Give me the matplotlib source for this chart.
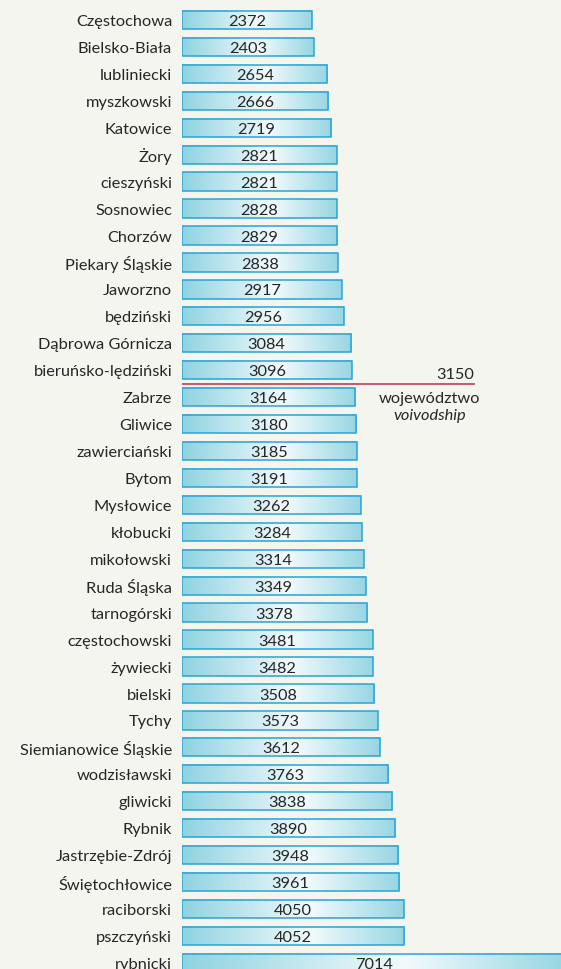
import numpy as np
import matplotlib.pyplot as plt
from matplotlib.colors import LinearSegmentedColormap

plt.rcParams['font.family'] = ['Lato', 'DejaVu Sans']

names = ['Częstochowa', 'Bielsko-Biała', 'lubliniecki', 'myszkowski', 'Katowice',
         'Żory', 'cieszyński', 'Sosnowiec', 'Chorzów', 'Piekary Śląskie',
         'Jaworzno', 'będziński', 'Dąbrowa Górnicza', 'bieruńsko-lędziński',
         'Zabrze', 'Gliwice', 'zawierciański', 'Bytom', 'Mysłowice', 'kłobucki',
         'mikołowski', 'Ruda Śląska', 'tarnogórski', 'częstochowski', 'żywiecki',
         'bielski', 'Tychy', 'Siemianowice Śląskie', 'wodzisławski', 'gliwicki',
         'Rybnik', 'Jastrzębie-Zdrój', 'Świętochłowice', 'raciborski',
         'pszczyński', 'rybnicki']
values = [2372, 2403, 2654, 2666, 2719, 2821, 2821, 2828, 2829, 2838,
          2917, 2956, 3084, 3096, 3164, 3180, 3185, 3191, 3262, 3284,
          3314, 3349, 3378, 3481, 3482, 3508, 3573, 3612, 3763, 3838,
          3890, 3948, 3961, 4050, 4052, 7014]
voivodship = 3150

bg = '#f5f5f0'
txt = '#262626'
edge = '#2aa3d3'
grad = LinearSegmentedColormap.from_list(
    'bar', [(0, '#8fd3e1'), (0.58, '#f2fafc'), (1, '#97d6e3')])
fs = 11.8

fig = plt.figure(figsize=(5.61, 9.70), dpi=100, facecolor=bg)
x0 = 182 / 561
ax = fig.add_axes([x0, 0, 1 - x0, 1])
ax.set_facecolor(bg)

h = 0.68
g = np.linspace(0, 1, 256).reshape(1, -1)
for i, v in enumerate(values):
    ax.imshow(g, cmap=grad, aspect='auto', interpolation='bilinear',
              extent=[0, v, i + h / 2, i - h / 2], zorder=1)
    ax.barh(i, v, height=h, facecolor='none', edgecolor=edge, linewidth=1.1, zorder=2)
    ax.text(v / 2, i + 0.04, str(v), ha='center', va='center', fontsize=fs,
            color=txt, zorder=3)
    ax.text(-180, i + 0.04, names[i], ha='right', va='center', fontsize=fs,
            color=txt, clip_on=False)

# voivodship average line between the rows it falls between
pos = np.searchsorted(values[:-1], voivodship) - 0.5
line_end = 5330
ax.plot([0, line_end], [pos, pos], color='#c23b5b', lw=1.2, zorder=4)
ax.text(line_end, pos - 0.1, str(voivodship), ha='right', va='bottom',
        fontsize=fs, color=txt)
ax.text(4520, pos + 0.55, 'województwo', ha='center', va='center',
        fontsize=fs, color=txt)
ax.text(4520, pos + 1.18, 'voivodship', ha='center', va='center',
        fontsize=fs, color=txt, style='italic')

ax.set_xlim(0, 6916)
ax.set_ylim(35.23, -0.78)
ax.axis('off')

fig.savefig('out.png', dpi=100, facecolor=bg)
